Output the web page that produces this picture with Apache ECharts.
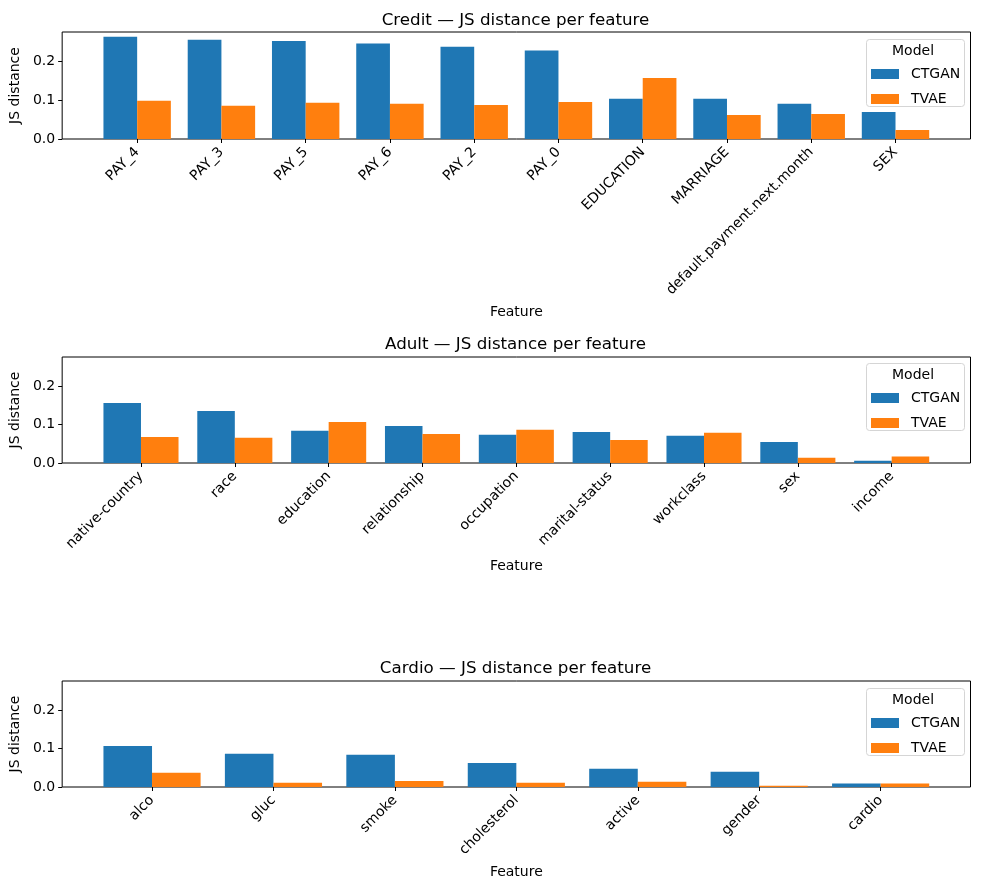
<!DOCTYPE html>
<html>
<head>
<meta charset="utf-8">
<script src="https://cdn.jsdelivr.net/npm/echarts@6/dist/echarts.min.js"></script>
<style>html,body{margin:0;padding:0;background:#fff;}#c{width:981px;height:890px;}</style>
</head>
<body>
<div id="c"></div>
<script>
// ---- data ----
const creditFeatures = ['PAY_4','PAY_3','PAY_5','PAY_6','PAY_2','PAY_0','EDUCATION','MARRIAGE','default.payment.next.month','SEX'];
const creditCTGAN = [0.265,0.257,0.254,0.247,0.239,0.229,0.104,0.104,0.091,0.070];
const creditTVAE  = [0.099,0.086,0.094,0.091,0.088,0.096,0.158,0.062,0.065,0.023];

const adultFeatures = ['native-country','race','education','relationship','occupation','marital-status','workclass','sex','income'];
const adultCTGAN = [0.157,0.136,0.084,0.097,0.074,0.081,0.071,0.055,0.006];
const adultTVAE  = [0.068,0.066,0.107,0.076,0.087,0.060,0.079,0.014,0.017];

const cardioFeatures = ['alco','gluc','smoke','cholesterol','active','gender','cardio'];
const cardioCTGAN = [0.107,0.087,0.084,0.063,0.048,0.040,0.009];
const cardioTVAE  = [0.037,0.011,0.016,0.011,0.014,0.003,0.009];

const yTicks = [0, 0.1, 0.2];
const seriesNames = ['CTGAN','TVAE'];
const legendTitle = 'Model';
const xTitle = 'Feature';
const yTitle = 'JS distance';

const datasets = [
  {name:'Credit', feats:creditFeatures, a:creditCTGAN, b:creditTVAE},
  {name:'Adult',  feats:adultFeatures,  a:adultCTGAN,  b:adultTVAE},
  {name:'Cardio', feats:cardioFeatures, a:cardioCTGAN, b:cardioTVAE}
];

// ---- layout ----
const FONT = 'DejaVu Sans';
const LEFT = 60.5, RIGHT = 10, W = 910;
const panels = [
  {top:32,  height:107, nameGap:166, title:7,   box:39},
  {top:357, height:106, nameGap:96,  title:331, box:363},
  {top:681, height:106, nameGap:78,  title:655, box:688}
];
const YMAX = 0.277;
const colors = ['#1f77b4', '#ff7f0e'];

const grid = [], xAxis = [], yAxis = [], series = [], title = [], legend = [], graphic = [];
datasets.forEach((d, i) => {
  const p = panels[i];
  const n = d.feats.length;
  const margin = 0.05 * (n - 1 + 0.8);
  grid.push({left:LEFT, width:W, top:p.top, height:p.height, show:true, borderColor:'#000', borderWidth:1, backgroundColor:'transparent'});
  const idx = d.feats.map((_, k) => k);
  xAxis.push({
    type:'value', gridIndex:i, min:-0.4 - margin, max:n - 1 + 0.4 + margin,
    splitLine:{show:false}, axisLine:{show:false, onZero:false},
    axisTick:{show:true, length:4, lineStyle:{color:'#000', width:1}, customValues:idx},
    axisLabel:{show:true, rotate:45, color:'#000', fontFamily:FONT, fontSize:14, margin:11,
      customValues:idx, formatter:(v) => d.feats[Math.round(v)]},
    name:xTitle, nameLocation:'middle', nameGap:p.nameGap,
    nameTextStyle:{color:'#000', fontFamily:FONT, fontSize:14}
  });
  yAxis.push({
    type:'value', gridIndex:i, min:0, max:YMAX,
    splitLine:{show:false}, axisLine:{show:false, onZero:false},
    axisTick:{show:true, length:4, lineStyle:{color:'#000', width:1}, customValues:yTicks},
    axisLabel:{show:true, color:'#000', fontFamily:FONT, fontSize:14, margin:7,
      customValues:yTicks, formatter:(v) => v.toFixed(1)},
    name:yTitle, nameLocation:'middle', nameGap:40,
    nameTextStyle:{color:'#000', fontFamily:FONT, fontSize:14}
  });
  [d.a, d.b].forEach((vals, s) => {
    series.push({
      type:'bar', name:seriesNames[s], xAxisIndex:i, yAxisIndex:i,
      data:vals.map((v, k) => [k, v]),
      barWidth:'40%', barGap:'0%',
      itemStyle:{color:colors[s]}, emphasis:{disabled:true}
    });
  });
  title.push({
    text:d.name + ' — JS distance per feature', left:LEFT + W/2 - 5, textAlign:'center', top:p.title,
    textStyle:{color:'#000', fontFamily:FONT, fontSize:16.7, fontWeight:'normal'}
  });
  legend.push({
    data:seriesNames, orient:'vertical', left:871, top:p.box + 28,
    itemWidth:28, itemHeight:10, itemGap:11, icon:'rect', padding:0,
    textStyle:{color:'#000', fontFamily:FONT, fontSize:14, lineHeight:10, padding:[0,0,0,7]}
  });
  graphic.push({
    type:'rect', left:866, top:p.box, z:1,
    shape:{width:98, height:67, r:3},
    style:{fill:'rgba(255,255,255,0.8)', stroke:'#d5d5d5', lineWidth:1}
  });
  graphic.push({
    type:'text', left:914 - 22, top:p.box + 5, z:2,
    style:{text:legendTitle, fill:'#000', font:'14px "' + FONT + '"'}
  });
});

const chart = echarts.init(document.getElementById('c'), null, {renderer:'canvas'});
chart.setOption({
  animation:false, backgroundColor:'#fff', color:colors,
  grid, xAxis, yAxis, series, title, legend, graphic
});
</script>
</body>
</html>
